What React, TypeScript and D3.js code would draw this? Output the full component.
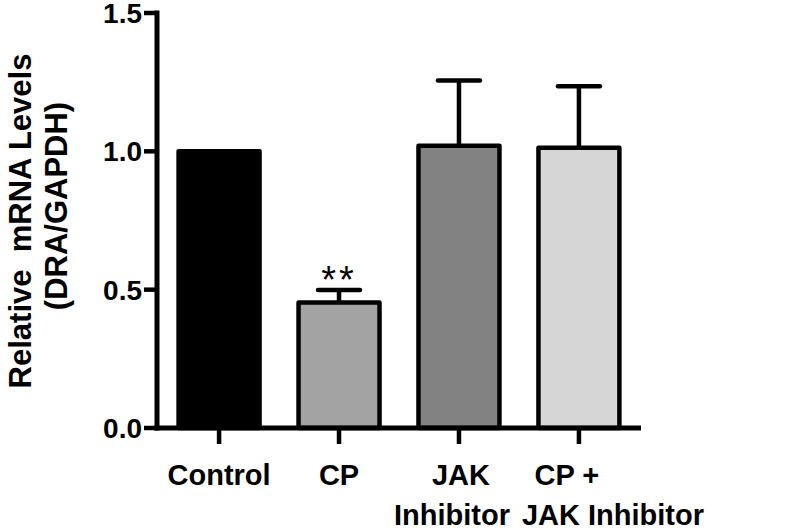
import React from "react";
import * as d3 from "d3";

const categories = ["Control", "CP", "JAK Inhibitor", "CP + JAK Inhibitor"];
const labelLines = [["Control"], ["CP"], ["JAK", "Inhibitor"], ["CP +", "JAK Inhibitor"]];
const means = [1.0, 0.454, 1.02, 1.013];
const errors = [0, 0.045, 0.236, 0.222];
const fills = ["#000000", "#a3a3a3", "#828282", "#d6d6d6"];
const significance = ["", "**", "", ""];
const yTicks = [0, 0.5, 1.0, 1.5];

export default function App() {
  const W = 800, H = 530;
  const x0 = 157, x1 = 641, yBase = 428, yTop = 13;
  const x = d3.scaleBand<string>().domain(categories).range([x0, x1]).paddingInner(0.325).paddingOuter(0.18);
  const y = d3.scaleLinear().domain([0, 1.5]).range([yBase, yTop]);
  const bw = x.bandwidth();
  const font = "'Liberation Sans', Arial, sans-serif";
  // horizontal nudges of each label line, as in the reference layout
  const lineShift = [[0], [0], [2, -7], [-12, 34]];
  return (
    <svg width={W} height={H} style={{ position: "absolute", left: 0, top: 0, background: "#fff" }}>
      {categories.map((c, i) => {
        const bx = x(c)!;
        const cx = bx + bw / 2;
        const top = y(means[i]);
        const errTop = y(means[i] + errors[i]);
        return (
          <g key={c}>
            {errors[i] > 0 && (
              <g stroke="#000" strokeWidth={4.5} strokeLinecap="round">
                <line x1={cx} x2={cx} y1={top} y2={errTop} strokeLinecap="butt" />
                <line x1={cx - 21} x2={cx + 21} y1={errTop} y2={errTop} />
              </g>
            )}
            <rect x={bx} y={top} width={bw} height={yBase - top} fill={fills[i]} stroke="#000" strokeWidth={4.5} strokeLinejoin="round" />
            {significance[i] && (
              <text x={cx} y={errTop + 3} textAnchor="middle" fontFamily={font} fontSize={38} letterSpacing={3} fill="#000">
                {significance[i]}
              </text>
            )}
          </g>
        );
      })}
      <line x1={x0} x2={x0} y1={yTop - 2.5} y2={yBase + 2.5} stroke="#000" strokeWidth={5} />
      {yTicks.map((t) => (
        <g key={t}>
          <line x1={144} x2={x0} y1={y(t)} y2={y(t)} stroke="#000" strokeWidth={4.5} />
          <text x={142} y={y(t)} dy="0.36em" textAnchor="end" fontFamily={font} fontWeight="bold" fontSize={28} fill="#000">
            {d3.format(".1f")(t)}
          </text>
        </g>
      ))}
      <line x1={x0 - 2.5} x2={x1} y1={yBase} y2={yBase} stroke="#000" strokeWidth={5} />
      {categories.map((c, i) => {
        const cx = x(c)! + bw / 2;
        return (
          <g key={c}>
            <line x1={cx} x2={cx} y1={yBase} y2={444} stroke="#000" strokeWidth={4.5} />
            <text textAnchor="middle" fontFamily={font} fontWeight="bold" fontSize={29} fill="#000">
              {labelLines[i].map((l, j) => (
                <tspan key={j} x={cx + lineShift[i][j]} y={485 + j * 40}>{l}</tspan>
              ))}
            </text>
          </g>
        );
      })}
      <text transform="translate(31,221) rotate(-90)" textAnchor="middle" fontFamily={font} fontWeight="bold" fontSize={31} fill="#000" style={{ whiteSpace: "pre" }}>
        {"Relative  mRNA Levels"}
      </text>
      <text transform="translate(67,206) rotate(-90)" textAnchor="middle" fontFamily={font} fontWeight="bold" fontSize={31} fill="#000">
        (DRA/GAPDH)
      </text>
    </svg>
  );
}
